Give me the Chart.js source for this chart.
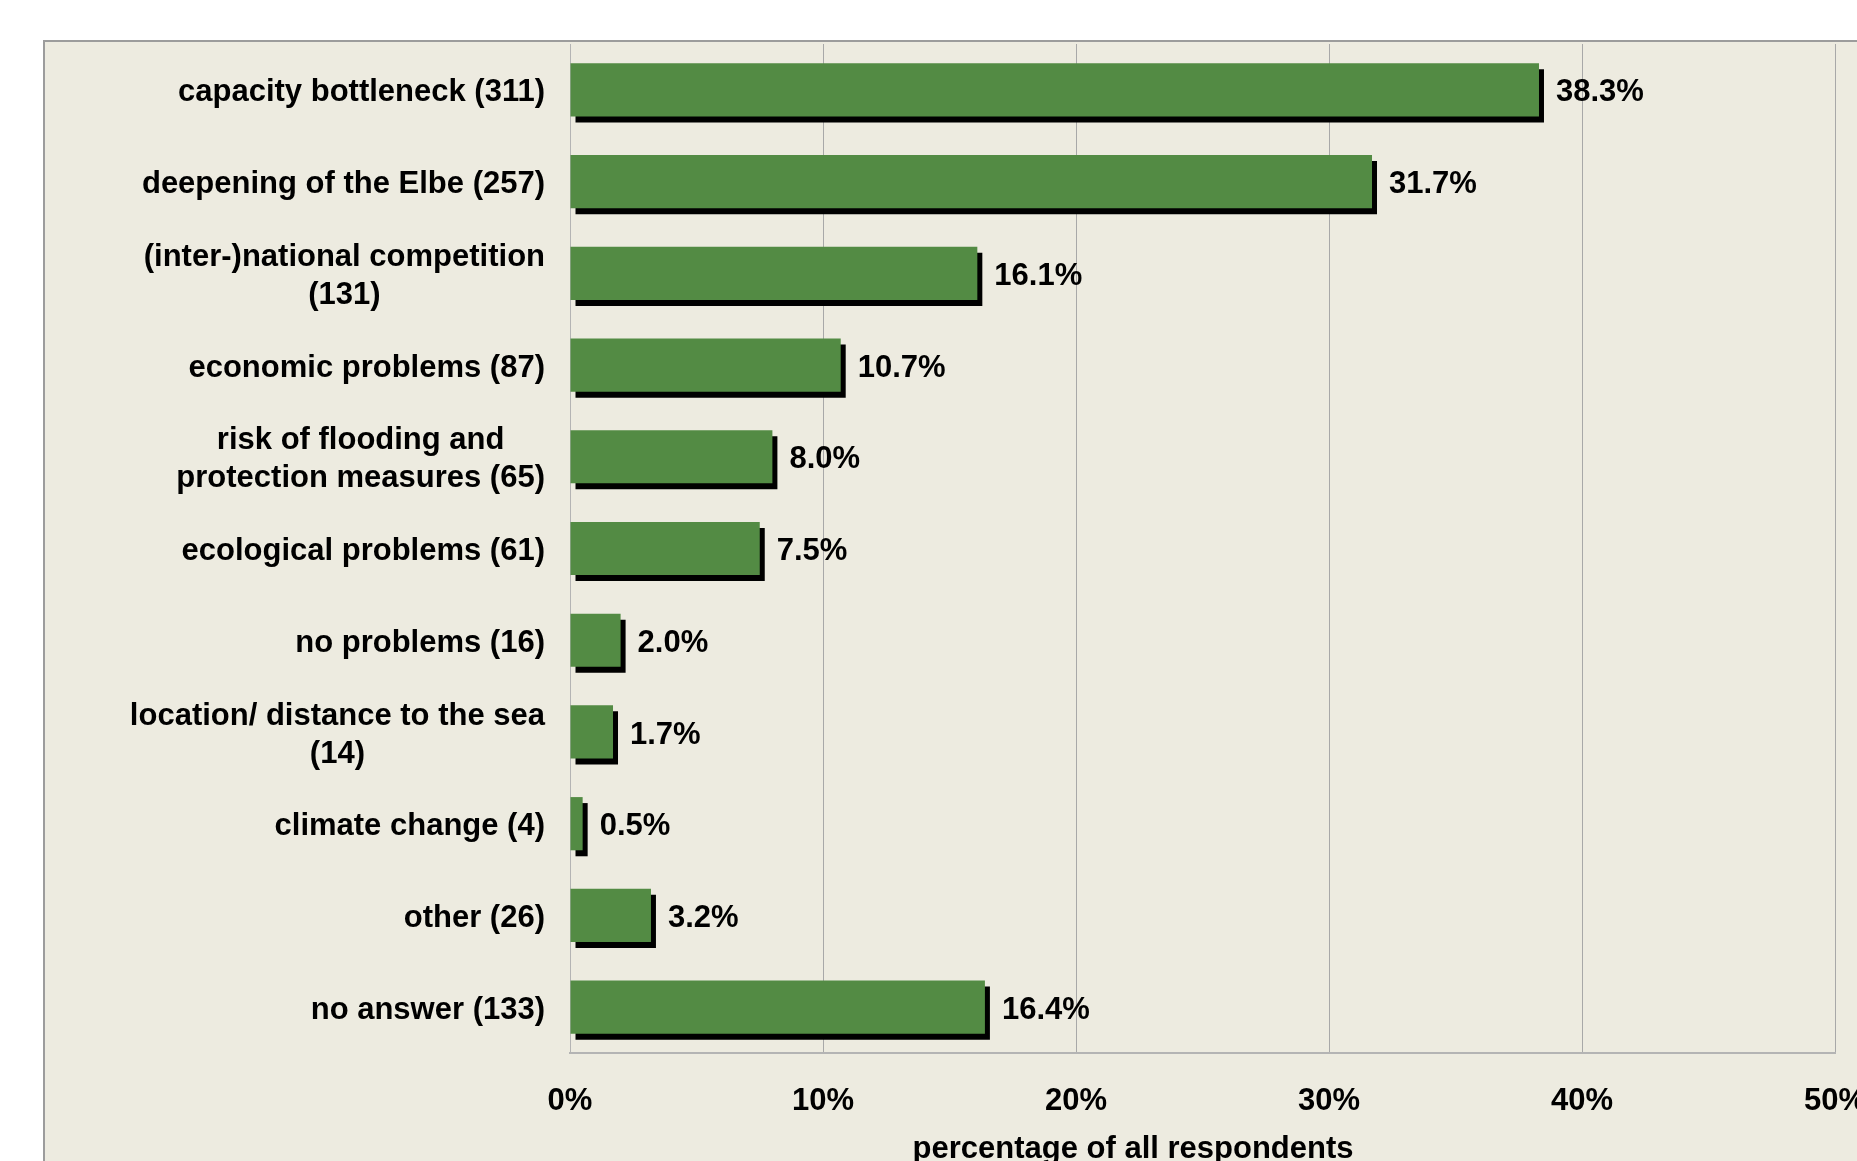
<!DOCTYPE html>
<html>
<head>
<meta charset="utf-8">
<script src="https://cdn.jsdelivr.net/npm/chart.js@4"></script>
<style>
  html, body { margin: 0; padding: 0; background: #fff; overflow: hidden; }
  canvas { display: block; }
</style>
</head>
<body>
<canvas id="problemsChart" width="1920" height="1200"></canvas>
<script>
const categories = [
  ['capacity bottleneck (311)'],
  ['deepening of the Elbe (257)'],
  ['(inter-)national competition', '(131)'],
  ['economic problems (87)'],
  ['risk of flooding and', 'protection measures (65)'],
  ['ecological problems (61)'],
  ['no problems (16)'],
  ['location/ distance to the sea', '(14)'],
  ['climate change (4)'],
  ['other (26)'],
  ['no answer (133)']
];
const shares = [38.3, 31.7, 16.1, 10.7, 8.0, 7.5, 2.0, 1.7, 0.5, 3.2, 16.4];
const xTicks = [0, 10, 20, 30, 40, 50];
const xTitle = 'percentage of all respondents';

const FONT = '"Liberation Sans", Arial, sans-serif';
const GREEN = '#538b44';
const PANEL = '#edebe0';

// grey panel behind the plot (runs off the right/bottom edge like the original)
const panelPlugin = {
  id: 'panel',
  beforeDraw(chart) {
    const ctx = chart.ctx;
    ctx.save();
    ctx.fillStyle = PANEL;
    ctx.fillRect(44, 41, chart.width, chart.height);
    ctx.strokeStyle = '#9c9c9c';
    ctx.lineWidth = 2;
    ctx.strokeRect(44, 41, chart.width, chart.height);
    ctx.restore();
  }
};

// black drop shadow under bars + value labels
const barPlugin = {
  id: 'barShadow',
  beforeDatasetsDraw(chart) {
    const ctx = chart.ctx;
    ctx.save();
    ctx.shadowColor = '#000';
    ctx.shadowBlur = 0;
    ctx.shadowOffsetX = 5;
    ctx.shadowOffsetY = 6;
  },
  afterDatasetsDraw(chart) {
    const ctx = chart.ctx;
    ctx.restore();
    ctx.save();
    ctx.font = 'bold 31px ' + FONT;
    ctx.fillStyle = '#000';
    ctx.textAlign = 'left';
    ctx.textBaseline = 'middle';
    chart.getDatasetMeta(0).data.forEach((bar, i) => {
      ctx.fillText(shares[i].toFixed(1) + '%', bar.x + 17, bar.y + 3);
    });
    ctx.restore();
  }
};

// category labels: block right-aligned, lines centred within it
const labelPlugin = {
  id: 'catLabels',
  afterDraw(chart) {
    const ctx = chart.ctx;
    const y = chart.scales.y;
    const right = chart.chartArea.left - 25;
    const lineH = 38;
    ctx.save();
    ctx.font = 'bold 31px ' + FONT;
    ctx.fillStyle = '#000';
    ctx.textAlign = 'center';
    ctx.textBaseline = 'middle';
    categories.forEach((lines, i) => {
      const w = Math.max(...lines.map(l => ctx.measureText(l).width));
      const cx = right - w / 2;
      const cy = y.getPixelForTick(i) + 3;
      const top = cy - (lines.length - 1) * lineH / 2;
      lines.forEach((l, j) => ctx.fillText(l, cx, top + j * lineH));
    });
    // axis title
    ctx.fillText(xTitle, 1133, 1149);
    ctx.restore();
  }
};

const ctx = document.getElementById('problemsChart').getContext('2d');
new Chart(ctx, {
  type: 'bar',
  data: {
    labels: categories.map(c => c.join(' ')),
    datasets: [{
      data: shares,
      backgroundColor: GREEN,
      borderWidth: 0,
      categoryPercentage: 1,
      barPercentage: 0.58
    }]
  },
  options: {
    indexAxis: 'y',
    responsive: false,
    animation: false,
    events: [],
    layout: { padding: { top: 44, left: 0, right: 85, bottom: 0 } },
    plugins: {
      legend: { display: false },
      tooltip: { enabled: false }
    },
    scales: {
      x: {
        min: 0,
        max: 50,
        afterBuildTicks(scale) {
          scale.ticks = xTicks.map(v => ({ value: v }));
        },
        afterFit(scale) { scale.height = 147; },
        grid: { color: '#a8a8a8', lineWidth: 1, drawTicks: false },
        border: { display: true, color: '#b4b4b4', width: 2 },
        ticks: {
          padding: 30,
          color: '#000',
          font: { family: FONT, size: 31, weight: 'bold' },
          callback: v => v + '%'
        }
      },
      y: {
        afterFit(scale) { scale.width = 570; },
        grid: { display: false },
        border: { display: true, color: '#b4b4b4', width: 1 },
        ticks: { display: false }
      }
    }
  },
  plugins: [panelPlugin, barPlugin, labelPlugin]
});
</script>
</body>
</html>
